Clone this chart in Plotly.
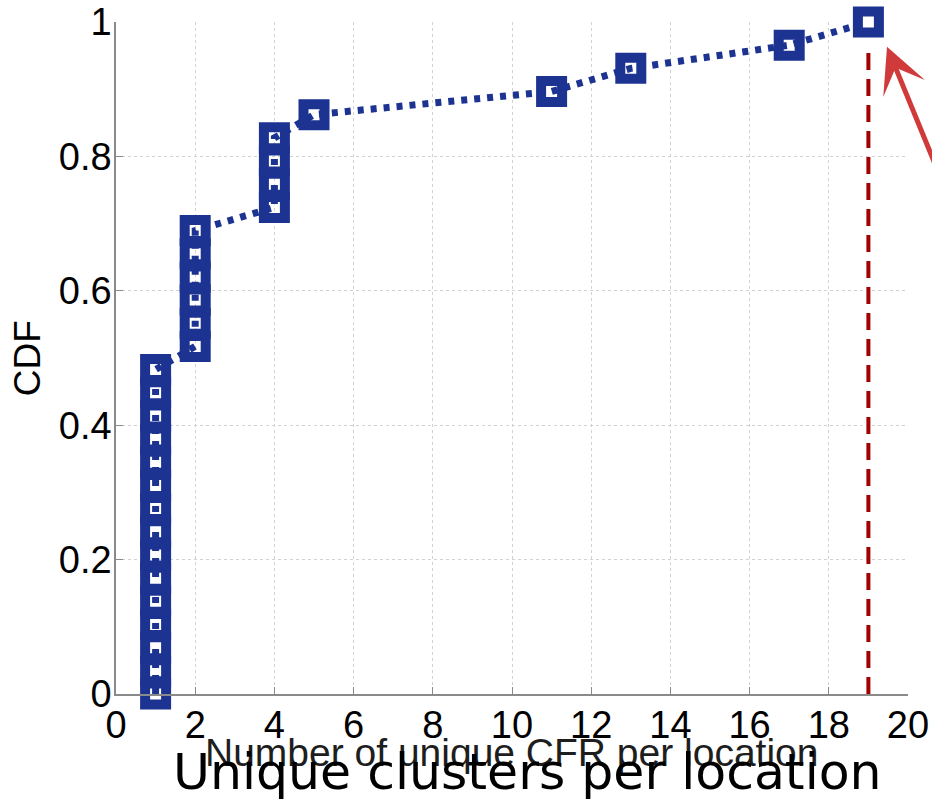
import numpy as np
import plotly.graph_objects as go

# Number of unique clusters observed at each location (sorted sample)
clusters_per_location = [1, 1, 1, 1, 1, 1, 1, 1, 1, 1, 1, 1, 1, 1, 1,
                         2, 2, 2, 2, 2, 2,
                         4, 4, 4, 4,
                         5, 11, 13, 17, 19]

# Empirical CDF of the sorted sample
n = len(clusters_per_location)
cdf = np.arange(n) / (n - 1)

x_ticks = list(range(0, 21, 2))
y_ticks = [0, 0.2, 0.4, 0.6, 0.8, 1]

max_clusters = max(clusters_per_location)
marker_top = 0.965

NAVY = "#1c3392"
DARK_RED = "#a30000"
ARROW_RED = "#d03a3a"
AXIS_GRAY = "#8a8a8a"
GRID_GRAY = "#d2d2d2"
SANS = "Liberation Sans, Arial, sans-serif"

fig = go.Figure()

# Vertical reference line at the largest count
fig.add_trace(go.Scatter(
    x=[max_clusters, max_clusters], y=[0, marker_top],
    mode="lines",
    line=dict(color=DARK_RED, width=4, dash="17px,9px"),
    hoverinfo="skip", showlegend=False, cliponaxis=False,
))

# CDF curve with hollow square markers
fig.add_trace(go.Scatter(
    x=clusters_per_location, y=cdf,
    mode="lines+markers",
    line=dict(color=NAVY, width=7, dash="6px,7px"),
    marker=dict(symbol="square-open", size=21,
                line=dict(color=NAVY, width=10)),
    showlegend=False, cliponaxis=False,
))

axis_common = dict(
    showline=True, linecolor=AXIS_GRAY, linewidth=1.5, mirror=False,
    ticks="inside", ticklen=7, tickcolor=AXIS_GRAY, tickwidth=1.2,
    showgrid=True, gridcolor=GRID_GRAY, gridwidth=1, griddash="dot",
    zeroline=False, automargin=False,
    tickfont=dict(family=SANS, size=38, color="black"),
)

fig.update_layout(
    width=932, height=800, autosize=False,
    margin=dict(l=116, r=24, t=22, b=106),
    plot_bgcolor="white", paper_bgcolor="white",
    xaxis=dict(range=[0, 20], tickvals=x_ticks, ticklabelstandoff=-3, **axis_common),
    yaxis=dict(range=[0, 1], tickvals=y_ticks, ticklabelstandoff=-5,
               ticktext=[f"{v:g}" for v in y_ticks], **axis_common),
    annotations=[
        dict(text="CDF", xref="paper", yref="paper", x=-0.112, y=0.5,
             xanchor="center", yanchor="middle", textangle=-90, showarrow=False,
             font=dict(family=SANS, size=37, color="black")),
        dict(text="Number of unique CFR per location", xref="paper", yref="paper",
             x=0.499, y=-0.087, xanchor="center", yanchor="middle", showarrow=False,
             font=dict(family=SANS, size=39, color="#1e1e1e")),
        dict(text="Unique clusters per location", xref="paper", yref="paper",
             x=0.519, y=-0.115, xanchor="center", yanchor="middle", showarrow=False,
             font=dict(family="DejaVu Sans, sans-serif", size=50.5, color="black")),
        # pointer arriving from outside the right edge
        dict(text="", x=19.47, y=0.963, xref="x", yref="y",
             ax=21.3, ay=0.70, axref="x", ayref="y",
             showarrow=True, arrowhead=3, arrowsize=1.5, arrowwidth=5,
             arrowcolor=ARROW_RED),
    ],
)

fig.write_html("out.html")
